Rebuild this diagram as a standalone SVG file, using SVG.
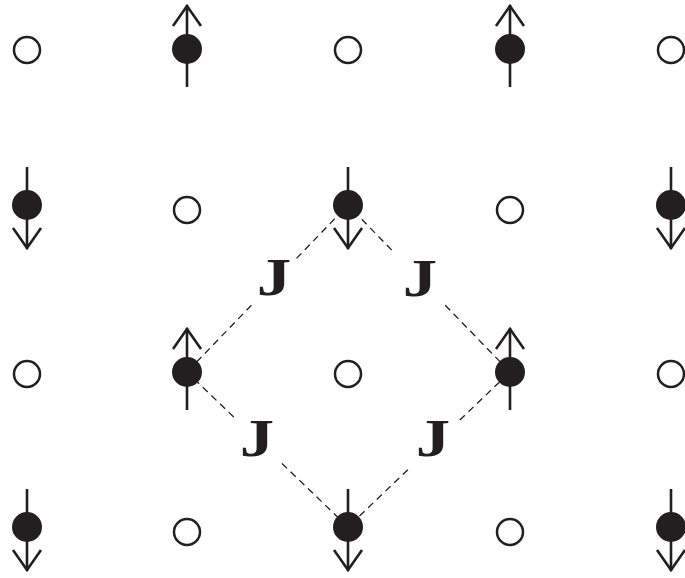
<svg xmlns="http://www.w3.org/2000/svg" xmlns:xlink="http://www.w3.org/1999/xlink" width="685" height="578" viewBox="0 0 685 578">
  <style>
    .open { fill: #ffffff; stroke: #231f20; stroke-width: 2.5; }
    .spinline { fill: none; stroke: #231f20; stroke-width: 2.6; stroke-linecap: butt; stroke-linejoin: miter; }
    .dot { fill: #231f20; }
    .bond { stroke: #231f20; stroke-width: 1.3; stroke-dasharray: 7 5; fill: none; }
    .J { font-family: "Liberation Serif", "Times New Roman", serif; font-weight: bold; font-size: 53px; fill: #231f20; text-anchor: middle; }
  </style>
  <defs>
    <g id="up">
      <line class="spinline" x1="0" y1="-44" x2="0" y2="38"/>
      <polyline class="spinline" points="-14,-23 0,-43 14,-23"/>
      <circle class="dot" cx="0" cy="0" r="15"/>
    </g>
    <g id="down">
      <line class="spinline" x1="0" y1="-38" x2="0" y2="44"/>
      <polyline class="spinline" points="-14,23 0,43 14,23"/>
      <circle class="dot" cx="0" cy="0" r="15"/>
    </g>
  </defs>
  <rect width="685" height="578" fill="#ffffff"/>

  <g id="connectors">
    <line class="bond" x1="296.5" y1="258.4" x2="348" y2="205"/>
    <line class="bond" x1="251.4" y1="305.2" x2="187" y2="372"/>
    <line class="bond" x1="391.7" y1="250.1" x2="348" y2="205"/>
    <line class="bond" x1="445.2" y1="305.2" x2="510" y2="372"/>
    <line class="bond" x1="233.7" y1="417" x2="187" y2="372"/>
    <line class="bond" x1="282" y1="463.5" x2="348" y2="527"/>
    <line class="bond" x1="459.8" y1="420" x2="510" y2="372"/>
    <line class="bond" x1="407.9" y1="469.7" x2="348" y2="527"/>
  </g>

  <g id="labels">
    <text class="J" transform="translate(274,295) scale(1.3,1)">J</text>
    <text class="J" transform="translate(420,296) scale(1.3,1)">J</text>
    <text class="J" transform="translate(257,456) scale(1.3,1)">J</text>
    <text class="J" transform="translate(433,456) scale(1.3,1)">J</text>
  </g>

  <!-- row 1 -->
  <g id="o-1-1"><circle class="open" cx="27" cy="50" r="13"/></g>
  <g id="s-1-2"><use xlink:href="#up" x="187" y="49"/></g>
  <g id="o-1-3"><circle class="open" cx="348" cy="50" r="13"/></g>
  <g id="s-1-4"><use xlink:href="#up" x="510" y="49"/></g>
  <g id="o-1-5"><circle class="open" cx="671" cy="50" r="13"/></g>
  <!-- row 2 -->
  <g id="s-2-1"><use xlink:href="#down" x="27" y="205"/></g>
  <g id="o-2-2"><circle class="open" cx="187" cy="210" r="13"/></g>
  <g id="s-2-3"><use xlink:href="#down" x="348" y="205"/></g>
  <g id="o-2-4"><circle class="open" cx="510" cy="210" r="13"/></g>
  <g id="s-2-5"><use xlink:href="#down" x="671" y="205"/></g>
  <!-- row 3 -->
  <g id="o-3-1"><circle class="open" cx="27" cy="374" r="13"/></g>
  <g id="s-3-2"><use xlink:href="#up" x="187" y="372"/></g>
  <g id="o-3-3"><circle class="open" cx="348" cy="374" r="13"/></g>
  <g id="s-3-4"><use xlink:href="#up" x="510" y="372"/></g>
  <g id="o-3-5"><circle class="open" cx="671" cy="374" r="13"/></g>
  <!-- row 4 -->
  <g id="s-4-1"><use xlink:href="#down" x="27" y="527"/></g>
  <g id="o-4-2"><circle class="open" cx="187" cy="532" r="13"/></g>
  <g id="s-4-3"><use xlink:href="#down" x="348" y="527"/></g>
  <g id="o-4-4"><circle class="open" cx="510" cy="532" r="13"/></g>
  <g id="s-4-5"><use xlink:href="#down" x="671" y="527"/></g>
</svg>
